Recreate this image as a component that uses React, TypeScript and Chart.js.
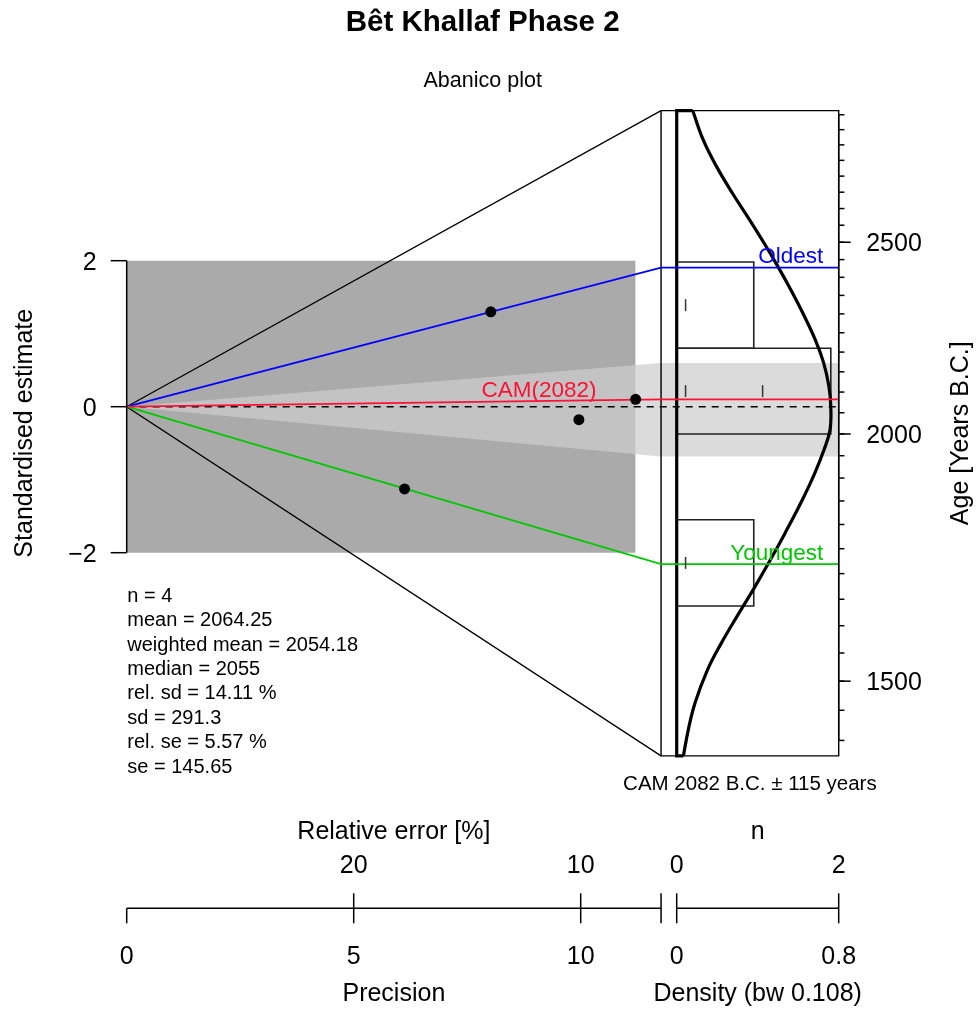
import { useEffect, useRef } from "react";
import { Chart, registerables } from "chart.js";

Chart.register(...registerables);

// ---------------- data ----------------
const titleText = "Bêt Khallaf Phase 2";
const subtitleText = "Abanico plot";
const precision = [8.02, 9.96, 11.21, 6.12];
const standardised = [1.3, -0.178, 0.101, -1.127];
const centralAge = 2064.5;
const oldestAge = 2427;
const youngestAge = 1719;
const camAge = 2082;
const camError = 115;
const bandAges = [1948, 2172];
const plotAgeLimits = [1375, 2914];
const histBreaks = [1637, 1810, 2000, 2210, 2443];
const histCounts = [1, 0, 2, 1];
const dotOffsets = [0.115, 1.115];
const densityAges = [
  2914, 2816, 2730, 2646, 2566, 2497, 2430, 2365, 2301, 2231, 2172, 2113, 2064,
  2009, 1963, 1910, 1845, 1782, 1727, 1674, 1617, 1567, 1519, 1462, 1417, 1375,
];
const densityValues = [
  0.079, 0.131, 0.197, 0.276, 0.36, 0.432, 0.5, 0.564, 0.624, 0.685, 0.726, 0.752,
  0.761, 0.757, 0.727, 0.681, 0.612, 0.535, 0.462, 0.386, 0.297, 0.219, 0.151, 0.09,
  0.057, 0.033,
];
const stdTicks = [-2, 0, 2];
const precisionTicks = [0, 5, 10];
const relErrorTicks = [20, 10];
const nTicks = [0, 2];
const densityTicks = [0, 0.8];
const ageMajorTicks = [1500, 2000, 2500];
const ageMinorTicks = [
  1400, 1450, 1500, 1550, 1600, 1650, 1700, 1750, 1800, 1850, 1900, 1950, 2000,
  2050, 2100, 2150, 2200, 2250, 2300, 2350, 2400, 2450, 2500, 2550, 2600, 2650,
  2700, 2750, 2800, 2850, 2900,
];
const statsLines = [
  "n = 4",
  "mean = 2064.25",
  "weighted mean = 2054.18",
  "median = 2055",
  "rel. sd = 14.11 %",
  "sd = 291.3",
  "rel. se = 5.57 %",
  "se = 145.65",
];

// ---------------- layout ----------------
const W = 979;
const H = 1010;
const X0_PX = 126.7;
const PREC_PX = 45.4;
const D0_PX = 676.7;
const DENS_PX = 202.5;
const Y0_PX = 406.7;
const STD_PX = 73;
const XR = 11.77; // radial axis position (precision units)
const DENS_AXIS_MAX = 0.8;
const N_AXIS_MAX = 2;
const CAM_LABEL_PREC = 9.08;
const FONT = '"Liberation Sans", Arial, Helvetica, sans-serif';

const xMin = -X0_PX / PREC_PX;
const xMax = (W - X0_PX) / PREC_PX;
const xdMin = -D0_PX / DENS_PX;
const xdMax = (W - D0_PX) / DENS_PX;
const yMax = Y0_PX / STD_PX;
const yMin = -(H - Y0_PX) / STD_PX;
const ageMax = centralAge * Math.exp(yMax / XR);
const ageMin = centralAge * Math.exp(yMin / XR);
const precRight = (D0_PX + DENS_AXIS_MAX * DENS_PX - X0_PX) / PREC_PX;

const stdOfAge = (a: number) => Math.log(a / centralAge) * XR;

const BLUE = "#0000ff";
const GREEN = "#00c800";
const RED = "#ff1035";

function buildDatasets() {
  const list: any[] = [];
  const base = { pointRadius: 0, fill: false, tension: 0 };
  const rectRight = Math.max(...precision);
  list.push({
    ...base,
    data: [
      { x: 0, y: 2 },
      { x: rectRight, y: 2 },
    ],
    fill: { value: -2 },
    backgroundColor: "#aaaaaa",
    borderWidth: 0,
    xAxisID: "x",
    yAxisID: "y",
  });
  const bTop = stdOfAge(bandAges[1]);
  const bBot = stdOfAge(bandAges[0]);
  list.push({
    ...base,
    data: [
      { x: 0, y: 0 },
      { x: XR, y: bTop },
      { x: precRight, y: bTop },
    ],
    fill: "+1",
    backgroundColor: "rgba(205,205,205,0.72)",
    borderWidth: 0,
    xAxisID: "x",
    yAxisID: "y",
  });
  list.push({
    ...base,
    data: [
      { x: 0, y: 0 },
      { x: XR, y: bBot },
      { x: precRight, y: bBot },
    ],
    borderWidth: 0,
    xAxisID: "x",
    yAxisID: "y",
  });
  const sTop = stdOfAge(plotAgeLimits[1]);
  const sBot = stdOfAge(plotAgeLimits[0]);
  list.push({
    ...base,
    data: [
      { x: XR, y: sTop },
      { x: 0, y: 0 },
      { x: XR, y: sBot },
    ],
    borderColor: "#000",
    borderWidth: 1.3,
    xAxisID: "x",
    yAxisID: "y",
  });
  list.push({
    ...base,
    data: [
      { x: XR, y: sTop },
      { x: precRight, y: sTop },
      { x: precRight, y: sBot },
      { x: XR, y: sBot },
      { x: XR, y: sTop },
    ],
    borderColor: "#000",
    borderWidth: 1.4,
    xAxisID: "x",
    yAxisID: "y",
  });
  const densityPeak = Math.max(...densityValues);
  const maxCount = Math.max(...histCounts);
  const perCount = densityPeak / maxCount;
  histCounts.forEach((c, i) => {
    if (c <= 0) return;
    const lo = histBreaks[i];
    const hi = histBreaks[i + 1];
    const w = c * perCount;
    list.push({
      ...base,
      data: [
        { x: 0, y: lo },
        { x: w, y: lo },
        { x: w, y: hi },
        { x: 0, y: hi },
      ],
      borderColor: "#222",
      borderWidth: 1.6,
      xAxisID: "xd",
      yAxisID: "yAge",
    });
  });
  const last = densityValues.length - 1;
  list.push({
    ...base,
    data: [
      { x: densityValues[0], y: densityAges[0] },
      { x: 0, y: densityAges[0] },
      { x: 0, y: densityAges[last] },
      { x: densityValues[last], y: densityAges[last] },
    ],
    borderColor: "#000",
    borderWidth: 3.2,
    xAxisID: "xd",
    yAxisID: "yAge",
  });
  list.push({
    ...base,
    data: densityValues.map((d, i) => ({ x: d, y: densityAges[i] })),
    borderColor: "#000",
    borderWidth: 3.2,
    tension: 0.4,
    xAxisID: "xd",
    yAxisID: "yAge",
  });
  list.push({
    ...base,
    data: [
      { x: 0, y: 0 },
      { x: precRight, y: 0 },
    ],
    borderColor: "#000",
    borderWidth: 1.5,
    borderDash: [7, 6],
    xAxisID: "x",
    yAxisID: "y",
  });
  const ageLine = (age: number, color: string) => ({
    ...base,
    data: [
      { x: 0, y: 0 },
      { x: XR, y: stdOfAge(age) },
      { x: precRight, y: stdOfAge(age) },
    ],
    borderColor: color,
    borderWidth: 1.8,
    xAxisID: "x",
    yAxisID: "y",
  });
  list.push(ageLine(youngestAge, GREEN));
  list.push(ageLine(oldestAge, BLUE));
  list.push(ageLine(camAge, RED));
  const dots: { x: number; y: number }[] = [];
  histCounts.forEach((c, i) => {
    const mid = Math.sqrt(histBreaks[i] * histBreaks[i + 1]);
    for (let j = 0; j < c; j++) dots.push({ x: dotOffsets[j] * perCount, y: mid });
  });
  list.push({
    data: dots,
    showLine: false,
    pointStyle: "line",
    pointRotation: 90,
    pointRadius: 6,
    pointBorderWidth: 1.5,
    pointBorderColor: "#333",
    xAxisID: "xd",
    yAxisID: "yAge",
  });
  list.push({
    data: precision.map((p, i) => ({ x: p, y: standardised[i] })),
    showLine: false,
    pointRadius: 5.5,
    pointBorderWidth: 0,
    pointBackgroundColor: "#000",
    pointBorderColor: "#000",
    xAxisID: "x",
    yAxisID: "y",
  });
  const n = list.length;
  return list.map((d, i) => ({ ...d, order: n - i }));
}

const fmt = (v: number) => (v < 0 ? "\u2212" + Math.abs(v) : String(v));

const decorPlugin = {
  id: "abanicoDecor",
  afterDraw(chart: any) {
    const ctx: CanvasRenderingContext2D = chart.ctx;
    const sx = chart.scales.x;
    const sy = chart.scales.y;
    const sd = chart.scales.xd;
    const sa = chart.scales.yAge;
    ctx.save();
    ctx.strokeStyle = "#000";
    ctx.lineWidth = 1.5;
    const line = (x1: number, y1: number, x2: number, y2: number) => {
      ctx.beginPath();
      ctx.moveTo(x1, y1);
      ctx.lineTo(x2, y2);
      ctx.stroke();
    };
    const text = (
      s: string,
      x: number,
      y: number,
      size: number,
      align: CanvasTextAlign = "center",
      weight = "normal",
      color = "#000"
    ) => {
      ctx.font = `${weight} ${size}px ${FONT}`;
      ctx.textAlign = align;
      ctx.textBaseline = "alphabetic";
      ctx.fillStyle = color;
      ctx.fillText(s, x, y);
    };

    const ax = sx.getPixelForValue(0);
    const xrPx = sx.getPixelForValue(XR);
    const rx = sd.getPixelForValue(DENS_AXIS_MAX);
    const boxTop = sa.getPixelForValue(plotAgeLimits[1]);
    const boxBot = sa.getPixelForValue(plotAgeLimits[0]);
    const boxMid = (boxTop + boxBot) / 2;

    // title
    const cx = (ax + rx) / 2;
    text(titleText, cx, 31, 29.5, "center", "bold");
    text(subtitleText, cx, 87, 21.5);

    // left axis
    line(ax, sy.getPixelForValue(Math.max(...stdTicks)), ax, sy.getPixelForValue(Math.min(...stdTicks)));
    stdTicks.forEach((t) => {
      const py = sy.getPixelForValue(t);
      line(ax - 16, py, ax, py);
      text(fmt(t), ax - 30, py + 9, 25, "right");
    });
    ctx.save();
    ctx.translate(32, boxMid);
    ctx.rotate(-Math.PI / 2);
    text("Standardised estimate", 0, 0, 25);
    ctx.restore();

    // right age axis
    line(rx, sa.getPixelForValue(Math.max(...ageMinorTicks)), rx, sa.getPixelForValue(Math.min(...ageMinorTicks)));
    ageMinorTicks.forEach((a) => {
      const py = sa.getPixelForValue(a);
      line(rx, py, rx + 5.7, py);
    });
    ageMajorTicks.forEach((a) => {
      const py = sa.getPixelForValue(a);
      line(rx, py, rx + 12, py);
      text(String(a), rx + 27.5, py + 9, 25, "left");
    });
    ctx.save();
    ctx.translate(968, boxMid);
    ctx.rotate(-Math.PI / 2);
    text("Age [Years B.C.]", 0, 0, 25);
    ctx.restore();

    // bottom axes
    const BY = 908.3;
    line(ax, BY, xrPx, BY);
    precisionTicks.forEach((t) => {
      const px = sx.getPixelForValue(t);
      line(px, BY, px, BY + 15);
      text(String(t), px, 964, 25);
    });
    relErrorTicks.forEach((r) => {
      const px = sx.getPixelForValue(100 / r);
      line(px, BY - 15, px, BY);
      text(String(r), px, 873, 25);
    });
    line(xrPx, BY - 15, xrPx, BY + 15);
    text("Relative error [%]", (ax + xrPx) / 2, 839, 25);
    text("Precision", (ax + xrPx) / 2, 1001, 25);

    const d0 = sd.getPixelForValue(0);
    line(d0, BY, rx, BY);
    densityTicks.forEach((t) => {
      const px = sd.getPixelForValue(t);
      line(px, BY, px, BY + 15);
      text(String(t), px, 964, 25);
    });
    nTicks.forEach((t) => {
      const px = sd.getPixelForValue((t / N_AXIS_MAX) * DENS_AXIS_MAX);
      line(px, BY - 15, px, BY);
      text(String(t), px, 873, 25);
    });
    text("n", (d0 + rx) / 2, 839, 25);
    text("Density (bw 0.108)", (d0 + rx) / 2, 1001, 25);

    // statistics
    statsLines.forEach((s, i) => text(s, ax + 0.6, 601.7 + i * 24.4, 20, "left"));

    // line labels
    text("Oldest", rx - 15.5, sa.getPixelForValue(oldestAge) - 4.5, 22.5, "right", "normal", BLUE);
    text("Youngest", rx - 15.5, sa.getPixelForValue(youngestAge) - 4, 22.5, "right", "normal", GREEN);
    const camY = sy.getPixelForValue((stdOfAge(camAge) * CAM_LABEL_PREC) / XR);
    text(`CAM(${camAge})`, sx.getPixelForValue(CAM_LABEL_PREC), camY - 4.5, 22.5, "center", "normal", RED);
    text(`CAM ${camAge} B.C. \u00b1 ${camError} years`, (xrPx + rx) / 2, boxBot + 34, 20.5);

    ctx.restore();
  },
};

export default function App() {
  const ref = useRef<HTMLCanvasElement | null>(null);
  useEffect(() => {
    if (!ref.current) return;
    const chart = new Chart(ref.current, {
      type: "line",
      data: { datasets: buildDatasets() as any },
      options: {
        animation: false,
        responsive: false,
        devicePixelRatio: 1,
        events: [],
        layout: { padding: 0, autoPadding: false },
        plugins: { legend: { display: false }, tooltip: { enabled: false }, title: { display: false } },
        scales: {
          x: { type: "linear", display: false, min: xMin, max: xMax },
          xd: { type: "linear", axis: "x", display: false, min: xdMin, max: xdMax },
          y: { type: "linear", display: false, min: yMin, max: yMax },
          yAge: { type: "logarithmic", axis: "y", display: false, min: ageMin, max: ageMax },
        },
      } as any,
      plugins: [decorPlugin],
    });
    return () => chart.destroy();
  }, []);
  return (
    <div style={{ position: "absolute", left: 0, top: 0, width: W, height: H, background: "#fff" }}>
      <canvas ref={ref} width={W} height={H} style={{ display: "block" }} />
    </div>
  );
}
